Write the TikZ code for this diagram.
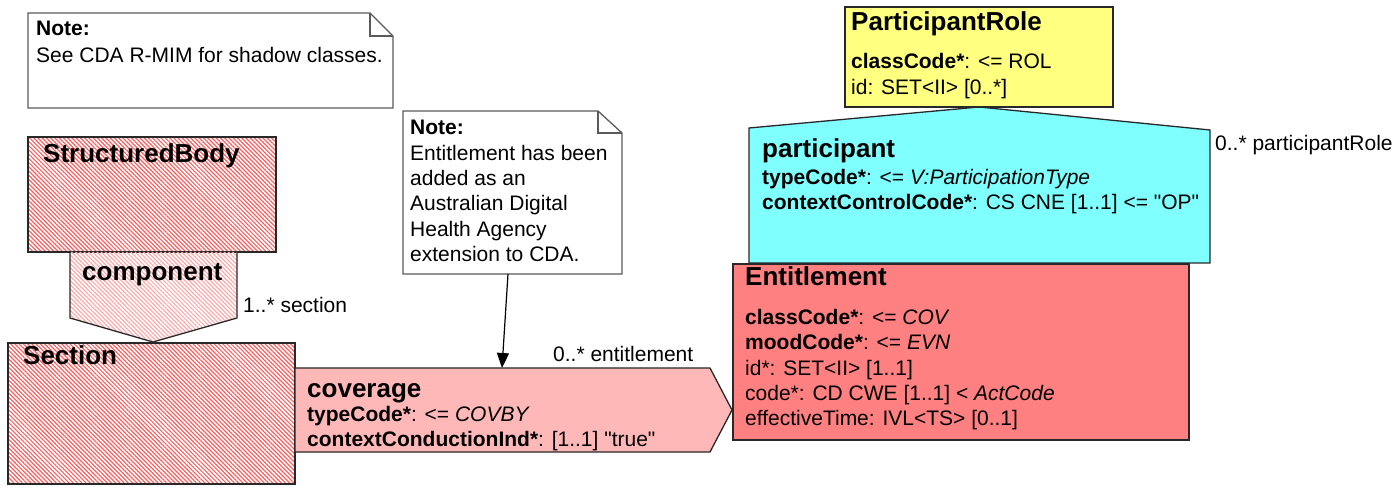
\documentclass[tikz,border=0pt]{standalone}
\usepackage{fontspec}
\setmainfont{Liberation Sans}[Ligatures=TeXOff]
\usetikzlibrary{patterns.meta,arrows.meta}
\definecolor{entred}{RGB}{255,128,128}
\definecolor{covpink}{RGB}{255,184,184}
\definecolor{partcyan}{RGB}{128,255,255}
\definecolor{roleyellow}{RGB}{255,255,128}
\definecolor{hatchred}{RGB}{250,95,95}
\definecolor{hatchlight}{RGB}{252,170,170}
\definecolor{edge}{RGB}{40,40,40}
\definecolor{noteedge}{RGB}{90,90,90}
\begin{document}
\begin{tikzpicture}[x=1pt,y=-1pt,
  outline/.style={draw=edge,line width=1.3pt,line join=miter},
  notebox/.style={draw=noteedge,line width=1.3pt,fill=white},
  hatchdark/.style={pattern={Lines[angle=-45,distance=3pt,line width=1.2pt]},pattern color=hatchred},
  hatchpale/.style={pattern={Lines[angle=-45,distance=3pt,line width=1.2pt]},pattern color=hatchlight},
  body/.style={anchor=base west,inner sep=0pt,font=\fontsize{21}{25}\selectfont},
  title/.style={anchor=base west,inner sep=0pt,font=\fontsize{26}{30}\selectfont\bfseries},
  boxnode/.style={anchor=north west,inner sep=0pt,outer sep=0pt,rectangle}
]
\useasboundingbox (0,0) rectangle (1398,486);

% ---------- Note 1 ----------
\path[notebox] (28,13) -- (370,13) -- (393,36) -- (393,108) -- (28,108) -- cycle;
\draw[draw=noteedge,line width=1.1pt] (370,13) -- (370,36) -- (393,36);
\node[body,font=\fontsize{21}{25}\selectfont\bfseries] (n1t) at (36,36) {Note:};
\node[body] (n1a) at (36,63) {See CDA R-MIM for shadow classes.};

% ---------- StructuredBody ----------
\node[boxnode,minimum width=248pt,minimum height=115pt,hatchdark,outline] (sb) at (28,137) {};
\node[title] (sbt) at (43,163) {StructuredBody};

% ---------- component ----------
\path[hatchpale] (70,252) -- (237,252) -- (237,318) -- (153,342) -- (70,318) -- cycle;
\draw[outline] (70,252) -- (70,318) -- (153,342) -- (237,318) -- (237,252);
\coordinate (comptip) at (153,342);
\node[title] (compt) at (82,281) {component};
\node[body] (seclab) at (243,313) {1..* section};

% ---------- Section ----------
\node[boxnode,minimum width=287pt,minimum height=141pt,hatchdark,outline] (sec) at (8,343) {};
\node[title] (sect) at (23,365) {Section};

% ---------- coverage ----------
\path[outline,fill=covpink] (295,368) -- (710,368) -- (732,410) -- (710,452) -- (295,452) -- cycle;
\coordinate (covtop) at (502,368);
\node[title] (covt) at (307,397) {coverage};
\node[body] (cov1) at (307,421) {\textbf{typeCode*}: <= \textit{COVBY}};
\node[body] (cov2) at (307,446) {\textbf{contextConductionInd*}: [1..1] "true"};
\node[body] (entlab) at (553,362) {0..* entitlement};

% ---------- Note 2 ----------
\path[notebox] (403,111) -- (598,111) -- (622,133) -- (622,274) -- (403,274) -- cycle;
\draw[draw=noteedge,line width=1.1pt] (598,111) -- (598,133) -- (622,133);
\coordinate (n2bot) at (508,274);
\node[body,font=\fontsize{21}{25}\selectfont\bfseries] (n2t) at (410,135) {Note:};
\node[body] (n2a) at (410,161) {Entitlement has been};
\node[body] (n2b) at (410,186) {added as an};
\node[body] (n2c) at (410,211) {Australian Digital};
\node[body] (n2d) at (410,237) {Health Agency};
\node[body] (n2e) at (410,262) {extension to CDA.};
\draw[line width=1.2pt,-{Triangle[length=15pt,width=12pt]}] (n2bot) -- (covtop);

% ---------- participant ----------
\path[outline,fill=partcyan] (749,128) -- (979,107) -- (1210,130) -- (1210,263) -- (749,263) -- cycle;
\node[title] (pt) at (762,158) {participant};
\node[body] (p1) at (762,185) {\textbf{typeCode*}: <= \textit{V:ParticipationType}};
\node[body] (p2) at (762,210) {\textbf{contextControlCode*}: CS CNE [1..1] <= "OP"};
\node[body] (prlab) at (1215,151) {0..* participantRole};

% ---------- ParticipantRole ----------
\node[boxnode,minimum width=268pt,minimum height=100pt,fill=roleyellow,outline] (pr) at (845,7) {};
\node[title] (prt) at (851,31) {ParticipantRole};
\node[body] (pr1) at (851,69) {\textbf{classCode*}: <= ROL};
\node[body] (pr2) at (851,95) {id: SET<II> [0..*]};

% ---------- Entitlement ----------
\node[boxnode,minimum width=456pt,minimum height=176pt,fill=entred,outline] (ent) at (733,264) {};
\node[title] (entt) at (745,286) {Entitlement};
\node[body] (e1) at (745,325) {\textbf{classCode*}: <= \textit{COV}};
\node[body] (e2) at (745,350) {\textbf{moodCode*}: <= \textit{EVN}};
\node[body] (e3) at (745,375) {id*: SET<II> [1..1]};
\node[body] (e4) at (745,400) {code*: CD CWE [1..1] < \textit{ActCode}};
\node[body] (e5) at (745,425) {effectiveTime: IVL<TS> [0..1]};
\end{tikzpicture}
\end{document}
